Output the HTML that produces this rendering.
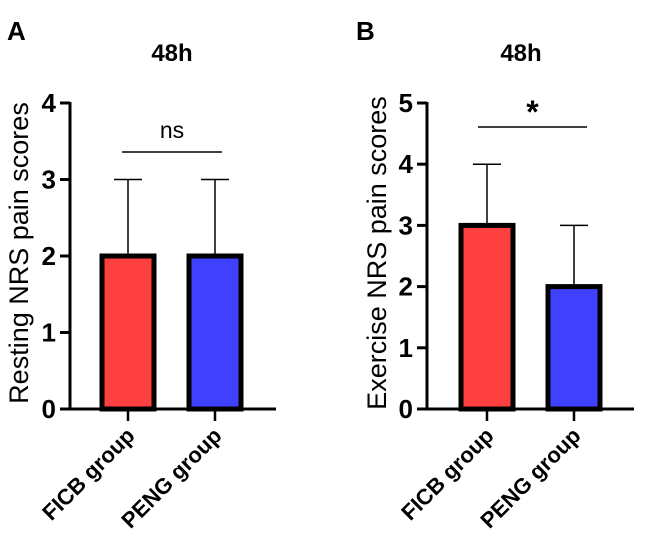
<!DOCTYPE html>
<html><head><meta charset="utf-8"><style>
html,body{margin:0;padding:0;background:#fff;width:649px;height:551px;overflow:hidden}
text{font-family:"Liberation Sans",Arial,sans-serif;fill:#000}
</style></head><body>
<svg id="chart" width="649" height="551" viewBox="0 0 649 551" xmlns="http://www.w3.org/2000/svg"></svg>
<script>
const categories = ["FICB group", "PENG group"];
const restingMeans = [2, 2];
const restingErrors = [1, 1];
const exerciseMeans = [3, 2];
const exerciseErrors = [1, 1];
const restingTicks = [0, 1, 2, 3, 4];
const exerciseTicks = [0, 1, 2, 3, 4, 5];
const colors = ["#ff4040", "#4040ff"];

const svg = document.getElementById('chart');
const NS = "http://www.w3.org/2000/svg";
function mk(tag, attrs, parent, name) {
  const e = document.createElementNS(NS, tag);
  for (const k in attrs) e.setAttribute(k, attrs[k]);
  
  
  (parent || svg).appendChild(e);
  return e;
}

function panel(cfg) {
  const g = mk('g', {}, svg, cfg.id);
  const y = v => cfg.y0 - (v / cfg.ymax) * (cfg.y0 - cfg.yTop);
  mk('text', {x: cfg.letterX, y: 40, 'font-size': 26, 'font-weight': 'bold'}, g, 'panel-letter').textContent = cfg.letter;
  mk('text', {x: cfg.titleX, y: 61, 'font-size': 24, 'font-weight': 'bold', 'text-anchor': 'middle'}, g, 'panel-title').textContent = '48h';
  cfg.means.forEach((m, i) => {
    const cx = cfg.xs[i];
    const top = y(m), errTop = y(m + cfg.errs[i]);
    mk('line', {x1: cx, x2: cx, y1: top, y2: errTop, stroke: '#000', 'stroke-width': 1.5}, g, 'error-bar');
    mk('line', {x1: cx - 14, x2: cx + 14, y1: errTop, y2: errTop, stroke: '#000', 'stroke-width': 1.5}, g, 'error-cap');
    mk('rect', {x: cx - 26, y: top, width: 52, height: cfg.y0 - top, fill: colors[i], stroke: '#000', 'stroke-width': 5}, g, 'bar-' + (i ? 'peng' : 'ficb'));
  });
  mk('line', {x1: cfg.ax, x2: cfg.ax, y1: cfg.yTop - 1, y2: cfg.y0 + 1.5, stroke: '#000', 'stroke-width': 3}, g, 'y-axis');
  mk('line', {x1: cfg.ax - 1.5, x2: cfg.xEnd, y1: cfg.y0, y2: cfg.y0, stroke: '#000', 'stroke-width': 3}, g, 'x-axis');
  cfg.ticks.forEach(t => {
    mk('line', {x1: cfg.ax - 10, x2: cfg.ax, y1: y(t), y2: y(t), stroke: '#000', 'stroke-width': 3}, g, 'y-tick');
    mk('text', {x: cfg.ax - 14, y: y(t) + 9, 'font-size': 26, 'font-weight': 'bold', 'text-anchor': 'end'}, g, 'y-tick-label').textContent = t;
  });
  categories.forEach((c, i) => {
    const cx = cfg.xs[i];
    mk('line', {x1: cx, x2: cx, y1: cfg.y0, y2: cfg.y0 + 12, stroke: '#000', 'stroke-width': 2.5}, g, 'x-tick');
    mk('text', {x: cx + 8, y: cfg.y0 + 28, 'font-size': 22, 'font-weight': 'bold', 'text-anchor': 'end', transform: `rotate(-45 ${cx + 8} ${cfg.y0 + 28})`}, g, 'x-tick-label').textContent = c;
  });
  mk('text', {x: 0, y: 0, 'font-size': 27, 'text-anchor': 'middle', transform: `translate(${cfg.titleAxX} ${cfg.titleAxY}) rotate(-90)`}, g, 'y-axis-title').textContent = cfg.ytitle;
  mk('line', {x1: cfg.sig[0], x2: cfg.sig[1], y1: cfg.sig[2], y2: cfg.sig[2], stroke: '#000', 'stroke-width': 1.5}, g, 'significance-line');
  mk('text', {x: (cfg.sig[0] + cfg.sig[1]) / 2, y: cfg.sigTextY, 'font-size': cfg.sigSize, 'text-anchor': 'middle', 'font-weight': cfg.sigWeight}, g, 'significance-label').textContent = cfg.sigText;
}

panel({id: 'panel-a', letter: 'A', letterX: 7, titleX: 172, ax: 70, y0: 409, yTop: 103, ymax: 4, xEnd: 276,
  xs: [128, 215], means: restingMeans, errs: restingErrors, ticks: restingTicks,
  ytitle: 'Resting NRS pain scores', titleAxX: 28, titleAxY: 253,
  sig: [122, 222, 152], sigText: 'ns', sigTextY: 138, sigSize: 23, sigWeight: 'normal'});
panel({id: 'panel-b', letter: 'B', letterX: 356, titleX: 521, ax: 427, y0: 409, yTop: 103, ymax: 5, xEnd: 634,
  xs: [487, 574], means: exerciseMeans, errs: exerciseErrors, ticks: exerciseTicks,
  ytitle: 'Exercise NRS pain scores', titleAxX: 386, titleAxY: 253,
  sig: [478, 587, 127], sigText: '*', sigTextY: 123, sigSize: 32, sigWeight: 'bold'});
</script>
</body></html>
